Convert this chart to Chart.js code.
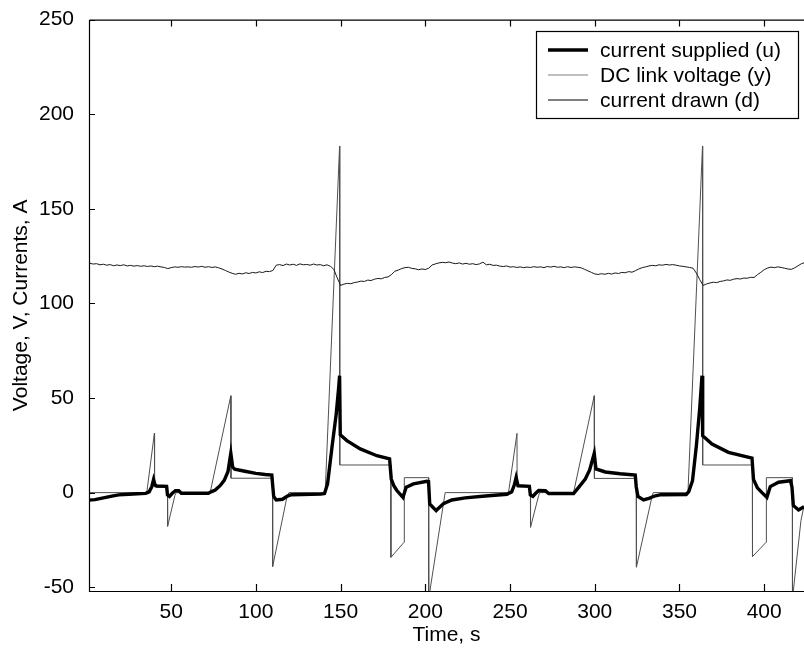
<!DOCTYPE html>
<html>
<head>
<meta charset="utf-8">
<script src="https://cdn.jsdelivr.net/npm/chart.js@4.4.1/dist/chart.umd.min.js"></script>
<style>
  html, body { margin: 0; padding: 0; background: #fff; }
  canvas { display: block; }
</style>
</head>
<body>
<canvas id="c" width="804" height="648"></canvas>
<script>
// ---- data ----
const xTicks = [50, 100, 150, 200, 250, 300, 350, 400];
const yTicks = [-50, 0, 50, 100, 150, 200, 250];

// current supplied (u)
const uTime = [1.5, 5, 10, 15, 19, 25, 30, 35, 37, 38.5, 39.6, 40.5, 41.5, 47.3, 47.8, 49, 50.5, 52.5, 54.5, 56, 72, 73.5, 76, 79, 81.3, 83.5, 85.2, 86.3, 87.5, 93.5, 100, 105.5, 109.4, 109.8, 110.5, 112, 115.7, 118.6, 121, 138.4, 140.5, 142.3, 144.9, 147.4, 148.8, 149.4, 149.8, 153.7, 161.6, 171.4, 178.9, 179.9, 181.5, 183.2, 186.8, 188.7, 193, 200.9, 201.9, 202.6, 206.4, 210.7, 215.6, 223.6, 235.4, 248.2, 251, 252.5, 253.6, 254.7, 261.4, 262, 263.5, 265, 266.9, 270.9, 272.8, 287.5, 290.5, 294.4, 297, 299.7, 300.7, 306.2, 315, 323.9, 324.5, 325.5, 328.8, 332, 335.3, 339, 354, 355.5, 357.7, 360, 362, 363.3, 363.7, 369.2, 378.9, 392.8, 393.7, 396, 398.7, 401.6, 403.6, 408.5, 415.5, 416.4, 417.2, 420.3, 423.5];
const uValues = [-4.0, -3.7, -2.8, -1.9, -1.2, -0.9, -0.6, -0.4, 0.4, 3.0, 6.9, 4.0, 3.5, 3.3, -1.2, -2.0, -0.5, 1.0, 1.0, -0.3, -0.3, 0.4, 1.4, 3.8, 6.5, 11.0, 20.8, 13.5, 12.4, 11.3, 10.2, 9.6, 9.3, 5.0, -2.0, -3.9, -3.5, -1.8, -1.1, -0.8, -0.5, 4.6, 23.9, 41.5, 55.0, 61.8, 30.6, 27.5, 23.1, 19.5, 17.8, 7.2, 3.5, 1.1, -2.5, 2.8, 4.6, 6.0, 5.8, -6.0, -9.5, -5.8, -3.9, -2.8, -1.8, -0.9, 0.4, 4.0, 8.0, 3.7, 3.3, -1.2, -2.0, -0.5, 1.1, 1.0, -0.5, -0.5, 2.8, 7.2, 12.0, 20.8, 12.5, 10.9, 10.0, 9.3, 3.0, -2.0, -3.9, -3.0, -1.8, -1.1, -1.0, 0.5, 6.3, 25.0, 45.0, 61.8, 30.1, 25.7, 21.3, 18.3, 7.0, 2.5, 0.0, -2.5, 3.2, 5.5, 6.3, 3.0, -6.8, -9.2, -7.5];

// DC link voltage (y), sampled every 2 s from t = 2
const voltStart = 2;
const voltStep = 2;
const voltValues = [
  121.2, 120.8, 121.0, 120.4, 120.7, 120.2, 120.5, 119.9, 120.3, 120.0,
  120.4, 119.8, 120.1, 119.7, 120.0, 119.6, 119.9, 119.5, 119.8, 119.4,
  119.7, 119.3, 119.0, 118.4, 118.9, 119.3, 119.1, 119.4, 119.2, 119.3,
  119.1, 119.5, 119.2, 119.6, 119.1, 119.4, 119.0, 119.3, 118.8, 118.2,
  117.4, 116.6, 115.9, 115.4, 115.9, 115.6, 116.2, 115.8, 116.4, 116.1,
  116.7, 116.3, 117.0, 116.8, 117.4, 120.2, 120.5, 120.0, 120.8, 120.3,
  120.7, 120.1, 120.9, 120.4, 120.6, 120.2, 120.8, 120.3, 120.5, 119.9,
  120.4, 119.6, 118.0, 113.5, 109.5, 110.2, 110.6, 110.4, 111.0, 111.3,
  111.8, 111.6, 112.3, 112.1, 112.8, 113.2, 113.0, 113.7, 114.0, 115.2,
  117.0, 117.6, 118.4, 118.9, 119.1, 118.5, 118.3, 117.8, 118.2, 117.9,
  118.6, 120.3, 120.9, 121.4, 121.7, 121.5, 121.9, 121.3, 121.0, 121.4,
  120.8, 121.2, 120.7, 121.0, 120.5, 120.9, 121.8, 120.4, 120.7, 120.1,
  120.2, 119.7, 119.5, 119.8, 119.2, 119.4, 119.0, 119.3, 118.9, 119.2,
  119.0, 119.4, 119.1, 119.3, 118.9, 119.5, 119.2, 119.6, 119.1, 119.3,
  118.9, 119.4, 119.0, 119.3, 119.1, 118.8, 118.0, 117.2, 116.4, 115.6,
  115.3, 115.7, 115.4, 115.9, 115.5, 116.1, 115.8, 116.4, 116.2, 116.8,
  116.5, 117.3, 118.2, 118.9, 119.3, 119.8, 120.1, 119.9, 120.4, 120.2,
  120.6, 120.3, 120.5, 120.2, 119.8, 119.6, 119.3, 119.0, 118.6, 116.0,
  112.5, 109.5, 110.3, 110.8, 111.2, 111.0, 111.6, 111.9, 112.4, 112.2,
  112.8, 113.1, 112.9, 113.4, 113.3, 113.8, 113.7, 115.2, 116.4, 117.8,
  118.7, 119.2, 118.9, 119.3, 119.0, 118.6, 118.2, 118.0, 118.8, 119.9,
  121.0, 121.6
];

// current drawn (d)
const dTime = [1.5, 35.6, 40.1, 40.2, 47.8, 47.9, 52.2, 53, 73, 85.2, 85.3, 109.8, 109.9, 118.4, 119.5, 140.9, 149.4, 149.5, 179.6, 179.7, 187.5, 187.6, 201.9, 202.0, 211.7, 249.1, 254.1, 254.2, 262.0, 262.1, 266.9, 267.5, 287.5, 299.7, 299.8, 324.5, 324.6, 333.8, 334.5, 355.0, 363.6, 363.7, 393.0, 393.1, 401.2, 401.3, 416.6, 416.7, 421.7, 423.5];
const dValues = [0, 0, 31.4, 3, 3, -17.8, -1.5, 0, 0, 51.2, 7.6, 7.6, -39.1, -2, 0, 0, 183.2, 14.6, 14.6, -34.2, -26.2, 7.9, 7.9, -56, 0, 0, 31.3, 3, 3, -18.3, -1.5, 0, 0, 51.2, 7.5, 7.5, -39.4, -2, 0, 0, 183.2, 14.6, 14.6, -33.8, -26.2, 7.9, 7.9, -56, -14.8, -7];

const seriesLabels = ['current supplied (u)', 'DC link voltage (y)', 'current drawn (d)'];

// ---- build library data ----
const pts = (xs, ys) => ys.map((v, i) => ({ x: xs[i], y: v }));
const voltPoints = voltValues.map((v, i) => ({ x: voltStart + i * voltStep, y: v }));

const FONT = '"Liberation Sans", Arial, Helvetica, sans-serif';

const framePlugin = {
  id: 'frame',
  afterDraw(chart) {
    const { ctx, chartArea: a, scales } = chart;
    const xs = scales.x, ys = scales.y;
    ctx.save();
    ctx.strokeStyle = '#000';
    ctx.lineWidth = 1.2;
    ctx.beginPath();
    ctx.moveTo(a.left + 0.5, a.top + 0.5);
    ctx.lineTo(a.left + 0.5, a.bottom + 0.5);
    ctx.lineTo(a.right + 1, a.bottom + 0.5);
    ctx.moveTo(a.left + 0.5, a.top + 0.5);
    ctx.lineTo(a.right + 1, a.top + 0.5);
    xs.ticks.forEach(t => {
      const p = Math.round(xs.getPixelForValue(t.value)) + 0.5;
      ctx.moveTo(p, a.bottom); ctx.lineTo(p, a.bottom - 7);
      ctx.moveTo(p, a.top); ctx.lineTo(p, a.top + 7);
    });
    ys.ticks.forEach(t => {
      const p = Math.round(ys.getPixelForValue(t.value)) + 0.5;
      ctx.moveTo(a.left, p); ctx.lineTo(a.left + 6, p);
    });
    ctx.stroke();

    // legend box
    const bx = 536.5, by = 31.5, bw = 262, bh = 87;
    ctx.fillStyle = '#fff';
    ctx.fillRect(bx, by, bw, bh);
    ctx.lineWidth = 1.2;
    ctx.strokeRect(bx, by, bw, bh);
    const styles = [
      { color: '#000', w: 3.5 },
      { color: '#808080', w: 1.2 },
      { color: '#000', w: 1 }
    ];
    ctx.font = '21px ' + FONT;
    ctx.textAlign = 'left';
    ctx.textBaseline = 'alphabetic';
    chart.data.datasets.forEach((ds, i) => {
      const base = 56.5 + i * 25;
      const ly = base - 6.5;
      ctx.beginPath();
      ctx.strokeStyle = styles[i].color;
      ctx.lineWidth = styles[i].w;
      ctx.moveTo(548, ly); ctx.lineTo(588, ly);
      ctx.stroke();
      ctx.fillStyle = '#000';
      ctx.fillText(ds.label, 600, base);
    });
    ctx.restore();
  }
};

new Chart(document.getElementById('c'), {
  type: 'line',
  data: {
    datasets: [
      { label: seriesLabels[0], data: pts(uTime, uValues), borderColor: '#000', borderWidth: 3.4, pointRadius: 0, tension: 0, fill: false },
      { label: seriesLabels[1], data: voltPoints, borderColor: '#1a1a1a', borderWidth: 1, pointRadius: 0, tension: 0, fill: false },
      { label: seriesLabels[2], data: pts(dTime, dValues), borderColor: '#505050', borderWidth: 1, pointRadius: 0, tension: 0, fill: false }
    ]
  },
  options: {
    responsive: false,
    animation: false,
    devicePixelRatio: 1,
    parsing: true,
    layout: { padding: { top: 19, right: 0, left: 0, bottom: 0 } },
    plugins: { legend: { display: false }, tooltip: { enabled: false } },
    scales: {
      x: {
        type: 'linear',
        min: 1.5,
        max: 423.5,
        grid: { display: false },
        border: { display: false },
        afterBuildTicks: s => { s.ticks = xTicks.map(v => ({ value: v })); },
        ticks: { stepSize: 50, includeBounds: false, color: '#000', padding: 1, maxRotation: 0, font: { family: FONT, size: 21 } },
        title: { display: true, text: 'Time, s', color: '#000', padding: { top: 0, bottom: 0 }, font: { family: FONT, size: 21 } },
        afterFit: s => { s.height = 57; }
      },
      y: {
        type: 'linear',
        min: -52,
        max: 250,
        grid: { display: false },
        border: { display: false },
        afterBuildTicks: s => { s.ticks = yTicks.map(v => ({ value: v })); },
        ticks: { stepSize: 50, includeBounds: false, color: '#000', padding: 7, font: { family: FONT, size: 21 } },
        title: { display: true, text: 'Voltage, V, Currents, A', color: '#000', padding: { top: 9, bottom: 0 }, font: { family: FONT, size: 21 } },
        afterFit: s => { s.width = 89; }
      }
    }
  },
  plugins: [framePlugin]
});
</script>
</body>
</html>
